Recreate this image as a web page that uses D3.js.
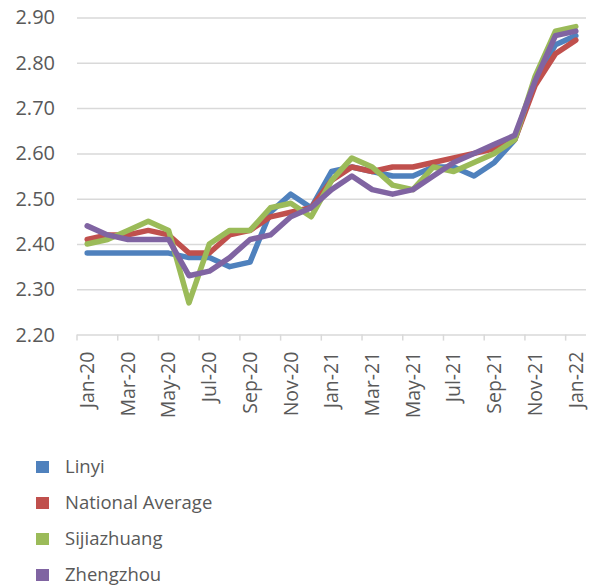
<!DOCTYPE html>
<html>
<head>
<meta charset="utf-8">
<script src="https://cdn.jsdelivr.net/npm/d3@7"></script>
<style>
  body { margin: 0; background: #fff; }
  text { font-family: "Open Sans", sans-serif; fill: #595959; }
</style>
</head>
<body>
<div id="chart"></div>
<script>
// data
const months = ["Jan-20","Feb-20","Mar-20","Apr-20","May-20","Jun-20","Jul-20","Aug-20","Sep-20","Oct-20","Nov-20","Dec-20",
                "Jan-21","Feb-21","Mar-21","Apr-21","May-21","Jun-21","Jul-21","Aug-21","Sep-21","Oct-21","Nov-21","Dec-21","Jan-22"];
const linyi       = [2.38,2.38,2.38,2.38,2.38,2.37,2.37,2.35,2.36,2.47,2.51,2.48,2.56,2.57,2.56,2.55,2.55,2.57,2.57,2.55,2.58,2.63,2.76,2.84,2.86];
const national    = [2.41,2.42,2.42,2.43,2.42,2.38,2.38,2.42,2.43,2.46,2.47,2.48,2.54,2.57,2.56,2.57,2.57,2.58,2.59,2.60,2.61,2.63,2.75,2.82,2.85];
const sijiazhuang = [2.40,2.41,2.43,2.45,2.43,2.27,2.40,2.43,2.43,2.48,2.49,2.46,2.54,2.59,2.57,2.53,2.52,2.57,2.56,2.58,2.60,2.63,2.77,2.87,2.88];
const zhengzhou   = [2.44,2.42,2.41,2.41,2.41,2.33,2.34,2.37,2.41,2.42,2.46,2.48,2.52,2.55,2.52,2.51,2.52,2.55,2.58,2.60,2.62,2.64,2.76,2.86,2.87];
const yTicks = [2.20,2.30,2.40,2.50,2.60,2.70,2.80,2.90];
const seriesNames = ["Linyi","National Average","Sijiazhuang","Zhengzhou"];
const colors = ["#4F81BD","#C0504D","#9BBB59","#8064A2"];

const width = 600, height = 587;
const margin = {left: 77, right: 14, top: 17.5, bottom: 252.4};

const svg = d3.select("#chart")
  .append("svg")
  .attr("width", width)
  .attr("height", height);

const x = d3.scaleBand()
  .domain(months)
  .range([margin.left, width - margin.right])
  .padding(0);

const y = d3.scaleLinear()
  .domain([2.20, 2.90])
  .range([height - margin.bottom, margin.top]);

// gridlines + y labels
const yAxis = svg.append("g")
  .attr("transform", `translate(${margin.left},0)`)
  .call(d3.axisLeft(y).tickValues(yTicks).tickFormat(d3.format(".2f"))
          .tickSize(-(width - margin.right - margin.left)).tickPadding(22));
yAxis.select(".domain").remove();
yAxis.selectAll(".tick line").attr("stroke", "#d9d9d9").attr("stroke-width", 1.5);
yAxis.selectAll(".tick text").attr("font-size", "20px").attr("fill", "#595959");

// x axis: ticks every second category boundary
const xAxis = svg.append("g")
  .attr("transform", `translate(0,${y(2.20)})`);
xAxis.selectAll("line.tk")
  .data(months.filter((d, i) => i % 2 === 0))
  .enter()
  .append("line")
    .attr("class", "tk")
    .attr("x1", d => x(d)).attr("x2", d => x(d))
    .attr("y1", 0).attr("y2", 6)
    .attr("stroke", "#d9d9d9").attr("stroke-width", 1.5);
xAxis.selectAll("text")
  .data(months.filter((d, i) => i % 2 === 0))
  .enter()
  .append("text")
    .attr("transform", d => `translate(${x(d) + x.bandwidth() / 2},17) rotate(-90)`)
    .attr("text-anchor", "end")
    .attr("dy", "0.35em")
    .attr("font-size", "19.5px")
    .text(d => d);

// lines
const allSeries = [linyi, national, sijiazhuang, zhengzhou];
const line = d3.line()
  .x((d, i) => x(months[i]) + x.bandwidth() / 2)
  .y(d => y(d));

svg.selectAll("path.series")
  .data(allSeries)
  .enter()
  .append("path")
    .attr("class", "series")
    .attr("d", line)
    .attr("fill", "none")
    .attr("stroke", (d, i) => colors[i])
    .attr("stroke-width", 5.5)
    .attr("stroke-linejoin", "round")
    .attr("stroke-linecap", "round");

// legend
const legend = svg.append("g");
const lg = legend.selectAll("g")
  .data(seriesNames)
  .enter()
  .append("g")
    .attr("transform", (d, i) => `translate(36,${467 + i * 36})`);
lg.append("rect")
  .attr("x", 0).attr("y", -6)
  .attr("width", 13).attr("height", 12)
  .attr("fill", (d, i) => colors[i]);
lg.append("text")
  .attr("x", 29)
  .attr("dy", "0.35em")
  .attr("font-size", "18.5px")
  .attr("fill", "#333333")
  .text(d => d);
</script>
</body>
</html>
